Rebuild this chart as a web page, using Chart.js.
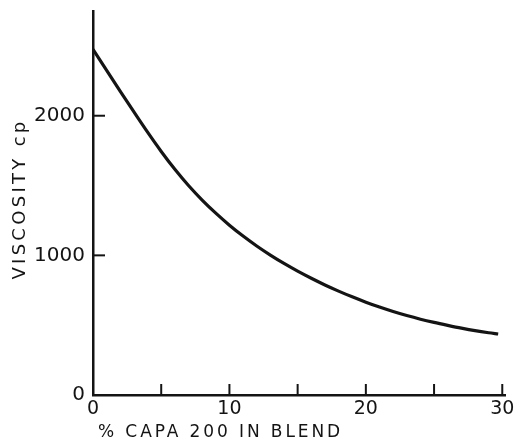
<!DOCTYPE html>
<html>
<head>
<meta charset="utf-8">
<script src="https://cdn.jsdelivr.net/npm/chart.js@4/dist/chart.umd.min.js"></script>
<style>
  html, body { margin: 0; padding: 0; background: #ffffff; }
  #wrap { width: 516px; height: 439px; }
</style>
</head>
<body>
<div id="wrap"><canvas id="c" width="516" height="439"></canvas></div>
<script>
// ---- data ----
const concentration = [0, 1, 2, 3, 4, 5, 6, 7, 8, 9, 10, 11, 12, 13, 14, 15, 16, 17, 18, 19, 20, 21, 22, 23, 24, 25, 26, 27, 28, 29, 29.7];
const viscosity = [2475, 2325, 2175, 2027, 1882, 1744, 1616, 1500, 1396, 1302, 1216, 1138, 1067, 1002, 942, 887, 836, 788, 744, 703, 665, 630, 598, 569, 543, 520, 499, 479, 461, 446, 437];
const xTickLabels = [0, 10, 20, 30];
const xTickMarks = [5, 10, 15, 20, 25, 30];
const yTickLabels = [0, 1000, 2000];
const yTickMarks = [1000, 2000];
const xTitle = '% CAPA 200 IN BLEND';
const yTitle = 'VISCOSITY cp';

const INK = '#141414';
const FONT = '"DejaVu Sans", sans-serif';

const points = concentration.map((x, i) => ({ x: x, y: viscosity[i] }));

const decorPlugin = {
  id: 'decor',
  afterDraw(chart) {
    const ctx = chart.ctx;
    const xs = chart.scales.x, ys = chart.scales.y;
    const area = chart.chartArea;
    ctx.save();
    ctx.strokeStyle = INK;
    ctx.lineWidth = 2;
    ctx.lineCap = 'butt';
    // inward ticks on x axis
    xTickMarks.forEach(v => {
      const px = xs.getPixelForValue(v);
      ctx.beginPath();
      ctx.moveTo(px, area.bottom);
      ctx.lineTo(px, area.bottom - 11);
      ctx.stroke();
    });
    // inward ticks on y axis
    yTickMarks.forEach(v => {
      const py = ys.getPixelForValue(v);
      ctx.beginPath();
      ctx.moveTo(area.left, py);
      ctx.lineTo(area.left + 12, py);
      ctx.stroke();
    });
    // axis titles
    ctx.fillStyle = INK;
    ctx.font = '17px ' + FONT;
    ctx.letterSpacing = '2.9px';
    ctx.textAlign = 'left';
    ctx.textBaseline = 'alphabetic';
    ctx.fillText(xTitle, area.left + 5, 437);

    ctx.font = '18px ' + FONT;
    ctx.letterSpacing = '3.3px';
    ctx.translate(25, 199);
    ctx.rotate(-Math.PI / 2);
    ctx.textAlign = 'center';
    ctx.fillText(yTitle, 0, 0);
    ctx.restore();
  }
};

new Chart(document.getElementById('c'), {
  type: 'scatter',
  data: {
    datasets: [{
      data: points,
      showLine: true,
      borderColor: INK,
      borderWidth: 3.2,
      pointRadius: 0,
      cubicInterpolationMode: 'monotone',
      fill: false
    }]
  },
  options: {
    responsive: false,
    animation: false,
    devicePixelRatio: 1,
    layout: { padding: { left: 0, top: 11, right: 11, bottom: 0 } },
    plugins: { legend: { display: false }, tooltip: { enabled: false }, title: { display: false } },
    scales: {
      x: {
        type: 'linear',
        min: 0,
        max: 30.2,
        grid: { display: false, drawTicks: false },
        border: { display: true, color: INK, width: 2.5 },
        ticks: { color: INK, font: { family: FONT, size: 19 }, padding: 3, maxRotation: 0, callback: v => String(v) },
        afterBuildTicks(scale) { scale.ticks = xTickLabels.map(v => ({ value: v })); },
        afterFit(scale) { scale.height = 44; scale.paddingLeft = 0; scale.paddingRight = 0; }
      },
      y: {
        type: 'linear',
        min: 0,
        max: 2750,
        grid: { display: false, drawTicks: false },
        border: { display: true, color: INK, width: 2.5 },
        ticks: { color: INK, font: { family: FONT, size: 20 }, padding: 8, callback: v => String(v) },
        afterBuildTicks(scale) { scale.ticks = yTickLabels.map(v => ({ value: v })); },
        afterFit(scale) { scale.width = 93; scale.paddingTop = 0; scale.paddingBottom = 0; }
      }
    }
  },
  plugins: [decorPlugin]
});
</script>
</body>
</html>
